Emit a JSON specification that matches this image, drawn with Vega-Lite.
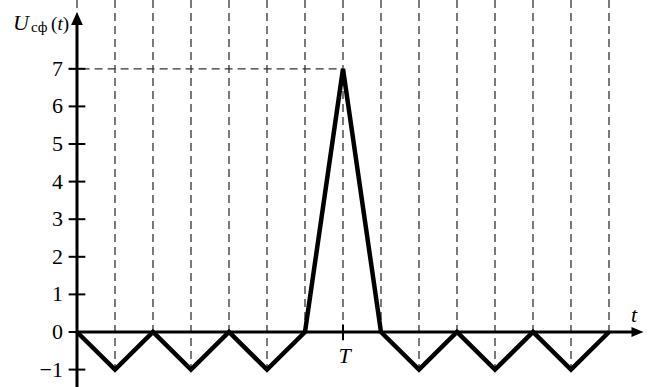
{
  "$schema": "https://vega.github.io/schema/vega-lite/v6.json",
  "width": 650,
  "height": 387,
  "autosize": "none",
  "padding": 0,
  "background": "white",
  "config": {"view": {"stroke": null}},
  "datasets": {
    "wave": [
      {"t": 0, "v": 0}, {"t": 1, "v": -1}, {"t": 2, "v": 0}, {"t": 3, "v": -1},
      {"t": 4, "v": 0}, {"t": 5, "v": -1}, {"t": 6, "v": 0}, {"t": 7, "v": 7},
      {"t": 8, "v": 0}, {"t": 9, "v": -1}, {"t": 10, "v": 0}, {"t": 11, "v": -1},
      {"t": 12, "v": 0}, {"t": 13, "v": -1}, {"t": 14, "v": 0}
    ],
    "grid": [
      {"t": 0, "top": 8.83, "bot": 0}, {"t": 1, "top": 8.83, "bot": -1},
      {"t": 2, "top": 8.83, "bot": 0}, {"t": 3, "top": 8.83, "bot": -1},
      {"t": 4, "top": 8.83, "bot": 0}, {"t": 5, "top": 8.83, "bot": -1},
      {"t": 6, "top": 8.83, "bot": 0}, {"t": 7, "top": 8.83, "bot": 0},
      {"t": 8, "top": 8.83, "bot": 0}, {"t": 9, "top": 8.83, "bot": -1},
      {"t": 10, "top": 8.83, "bot": 0}, {"t": 11, "top": 8.83, "bot": -1},
      {"t": 12, "top": 8.83, "bot": 0}, {"t": 13, "top": 8.83, "bot": -1},
      {"t": 14, "top": 8.83, "bot": 0}
    ],
    "yticks": [
      {"v": -1, "label": "−1"}, {"v": 0, "label": "0"}, {"v": 1, "label": "1"},
      {"v": 2, "label": "2"}, {"v": 3, "label": "3"}, {"v": 4, "label": "4"},
      {"v": 5, "label": "5"}, {"v": 6, "label": "6"}, {"v": 7, "label": "7"}
    ]
  },
  "layer": [
    {
      "data": {"name": "grid"},
      "mark": {"type": "rule", "stroke": "#333333", "strokeWidth": 1.3, "strokeDash": [8, 5]},
      "encoding": {
        "x": {"field": "t", "type": "quantitative", "scale": {"domain": [-2.026, 15.079], "nice": false, "zero": false}, "axis": null},
        "y": {"field": "top", "type": "quantitative", "scale": {"domain": [-1.463, 8.83], "nice": false, "zero": false}, "axis": null},
        "y2": {"field": "bot"}
      }
    },
    {
      "data": {"values": [{"t0": -0.22, "t1": 7, "v": 7}]},
      "mark": {"type": "rule", "stroke": "#333333", "strokeWidth": 1.3, "strokeDash": [8, 5]},
      "encoding": {
        "x": {"field": "t0", "type": "quantitative"},
        "x2": {"field": "t1"},
        "y": {"field": "v", "type": "quantitative"}
      }
    },
    {
      "data": {"name": "yticks"},
      "mark": {"type": "rule", "stroke": "black", "strokeWidth": 2},
      "encoding": {
        "x": {"datum": -0.22, "type": "quantitative"},
        "x2": {"datum": 0.22},
        "y": {"field": "v", "type": "quantitative"}
      }
    },
    {
      "data": {"values": [{"t": 7, "a": -0.22, "b": 0.2}]},
      "mark": {"type": "rule", "stroke": "black", "strokeWidth": 2},
      "encoding": {
        "x": {"field": "t", "type": "quantitative"},
        "y": {"field": "a", "type": "quantitative"},
        "y2": {"field": "b"}
      }
    },
    {
      "data": {"values": [{"a": -1.5, "b": 8.2}]},
      "mark": {"type": "rule", "stroke": "black", "strokeWidth": 3},
      "encoding": {
        "x": {"datum": 0, "type": "quantitative"},
        "y": {"field": "a", "type": "quantitative"},
        "y2": {"field": "b"}
      }
    },
    {
      "data": {"values": [{"a": 0, "b": 14.65}]},
      "mark": {"type": "rule", "stroke": "black", "strokeWidth": 3},
      "encoding": {
        "x": {"field": "a", "type": "quantitative"},
        "x2": {"field": "b"},
        "y": {"datum": 0, "type": "quantitative"}
      }
    },
    {
      "data": {"name": "wave"},
      "mark": {"type": "line", "stroke": "black", "strokeWidth": 4.5, "strokeJoin": "miter", "strokeCap": "butt"},
      "encoding": {
        "x": {"field": "t", "type": "quantitative"},
        "y": {"field": "v", "type": "quantitative"}
      }
    },
    {
      "data": {"values": [{"t": 0, "v": 8.34}]},
      "mark": {"type": "point", "shape": "M0,-1L0.9,1L-0.9,1Z", "size": 169, "filled": true, "fill": "black", "opacity": 1, "strokeWidth": 0},
      "encoding": {
        "x": {"field": "t", "type": "quantitative"},
        "y": {"field": "v", "type": "quantitative"}
      }
    },
    {
      "data": {"values": [{"t": 14.75, "v": 0}]},
      "mark": {"type": "point", "shape": "M1,0L-1,0.85L-1,-0.85Z", "size": 144, "filled": true, "fill": "black", "opacity": 1, "strokeWidth": 0},
      "encoding": {
        "x": {"field": "t", "type": "quantitative"},
        "y": {"field": "v", "type": "quantitative"}
      }
    },
    {
      "data": {"name": "yticks"},
      "mark": {"type": "text", "font": "Liberation Serif", "fontSize": 22, "align": "right", "baseline": "middle", "fill": "black"},
      "encoding": {
        "x": {"datum": -0.37, "type": "quantitative"},
        "y": {"field": "v", "type": "quantitative"},
        "text": {"field": "label"}
      }
    },
    {
      "data": {"values": [
        {"t": -1.684, "v": 8.03, "s": "U"},
        {"t": 14.58, "v": 0.27, "s": "t"}
      ]},
      "mark": {"type": "text", "font": "Liberation Serif", "fontStyle": "italic", "fontSize": 22, "align": "left", "baseline": "alphabetic", "fill": "black"},
      "encoding": {
        "x": {"field": "t", "type": "quantitative"},
        "y": {"field": "v", "type": "quantitative"},
        "text": {"field": "s"}
      }
    },
    {
      "data": {"values": [{"t": 7.04, "v": -0.82, "s": "T"}]},
      "mark": {"type": "text", "font": "Liberation Serif", "fontStyle": "italic", "fontSize": 22, "align": "center", "baseline": "alphabetic", "fill": "black"},
      "encoding": {
        "x": {"field": "t", "type": "quantitative"},
        "y": {"field": "v", "type": "quantitative"},
        "text": {"field": "s"}
      }
    },
    {
      "data": {"values": [{"t": -1.211, "v": 7.99, "s": "сф"}]},
      "mark": {"type": "text", "font": "Liberation Serif", "fontSize": 15, "align": "left", "baseline": "alphabetic", "fill": "black"},
      "encoding": {
        "x": {"field": "t", "type": "quantitative"},
        "y": {"field": "v", "type": "quantitative"},
        "text": {"field": "s"}
      }
    },
    {
      "data": {"values": [{"t": -0.684, "v": 8.03, "s": "("}, {"t": -0.374, "v": 8.03, "s": ")"}]},
      "mark": {"type": "text", "font": "Liberation Serif", "fontSize": 19, "align": "left", "baseline": "alphabetic", "fill": "black"},
      "encoding": {
        "x": {"field": "t", "type": "quantitative"},
        "y": {"field": "v", "type": "quantitative"},
        "text": {"field": "s"}
      }
    },
    {
      "data": {"values": [{"t": -0.515, "v": 8.03, "s": "t"}]},
      "mark": {"type": "text", "font": "Liberation Serif", "fontStyle": "italic", "fontSize": 19, "align": "left", "baseline": "alphabetic", "fill": "black"},
      "encoding": {
        "x": {"field": "t", "type": "quantitative"},
        "y": {"field": "v", "type": "quantitative"},
        "text": {"field": "s"}
      }
    }
  ]
}
